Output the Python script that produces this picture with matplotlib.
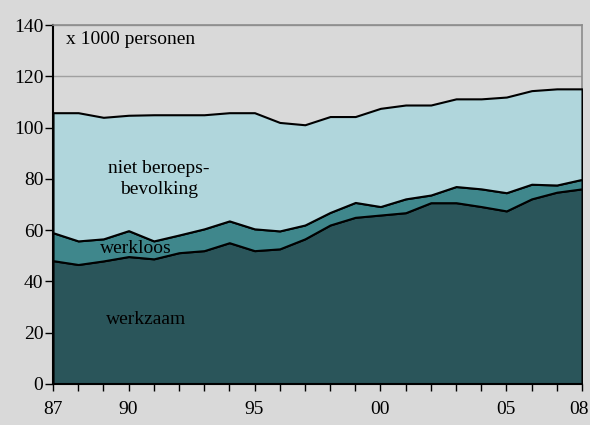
import numpy as np
import matplotlib.pyplot as plt
from matplotlib.transforms import ScaledTranslation

# jaren 1987 - 2008, x 1000 personen
years = list(range(1987, 2009))
werkzaam = [48.1, 46.6, 48.0, 49.7, 48.8, 51.2, 52.0, 55.1, 52.0, 52.7, 56.6,
            62.0, 65.0, 65.9, 66.8, 70.7, 70.7, 69.2, 67.5, 72.2, 74.8, 76.1]
werkloos_top = [59.0, 55.8, 56.6, 59.8, 55.8, 58.1, 60.5, 63.6, 60.5, 59.7, 62.0,
                66.9, 70.8, 69.2, 72.2, 73.7, 77.0, 76.1, 74.6, 77.9, 77.6, 79.8]
totaal = [105.8, 105.8, 104.0, 104.8, 105.0, 105.0, 105.0, 105.8, 105.8, 102.0, 101.1,
          104.3, 104.3, 107.5, 108.8, 108.8, 111.2, 111.2, 111.9, 114.4, 115.1, 115.1]
xlabels = {1987: "87", 1990: "90", 1995: "95", 2000: "00", 2005: "05", 2008: "08"}

werkloos = np.array(werkloos_top) - np.array(werkzaam)
niet_bb = np.array(totaal) - np.array(werkloos_top)

bg = "#d9d9d9"
plt.rcParams["font.family"] = ["Liberation Serif", "DejaVu Serif"]

fig = plt.figure(figsize=(5.9, 4.25), dpi=100, facecolor=bg)
ax = fig.add_axes([53 / 590, 41 / 425, 529 / 590, 359 / 425])
ax.set_facecolor(bg)

ax.stackplot(years, werkzaam, werkloos, niet_bb,
             colors=["#2a555a", "#3f878c", "#b0d6dc"],
             edgecolor="black", linewidth=1.5, zorder=2)

ax.set_xlim(1987, 2008)
ax.set_ylim(0, 140)
ax.set_yticks(range(0, 141, 20))
ax.set_xticks(years)
ax.set_xticklabels([xlabels.get(y, "") for y in years])
ax.tick_params(axis="both", labelsize=14, direction="out", length=5, width=1)
ax.tick_params(axis="x", pad=7)
ax.tick_params(axis="y", length=6, pad=1)

# laatste label ("08") iets naar links zodat het binnen de figuur valt
last = ax.get_xticklabels()[-1]
last.set_transform(last.get_transform() + ScaledTranslation(-3 / 100, 0, fig.dpi_scale_trans))

ax.grid(axis="y", color="#a0a0a0", linewidth=1)
ax.set_axisbelow(True)

for s in ["left", "bottom"]:
    ax.spines[s].set_color("black")
    ax.spines[s].set_linewidth(1.5)
for s in ["top", "right"]:
    ax.spines[s].set_color("#8c8c8c")
    ax.spines[s].set_linewidth(1.2)
ax.spines["right"].set_zorder(1)

ax.text(1987.5, 134.5, "x 1000 personen", fontsize=14, va="center", ha="left")
ax.text(1991.2, 80, "niet beroeps-\nbevolking", fontsize=14, ha="center",
        va="center", linespacing=1.3)
ax.text(1990.3, 53, "werkloos", fontsize=14, ha="center", va="center")
ax.text(1990.7, 25, "werkzaam", fontsize=14, ha="center", va="center")

fig.savefig("out.png", dpi=100, facecolor=bg)
